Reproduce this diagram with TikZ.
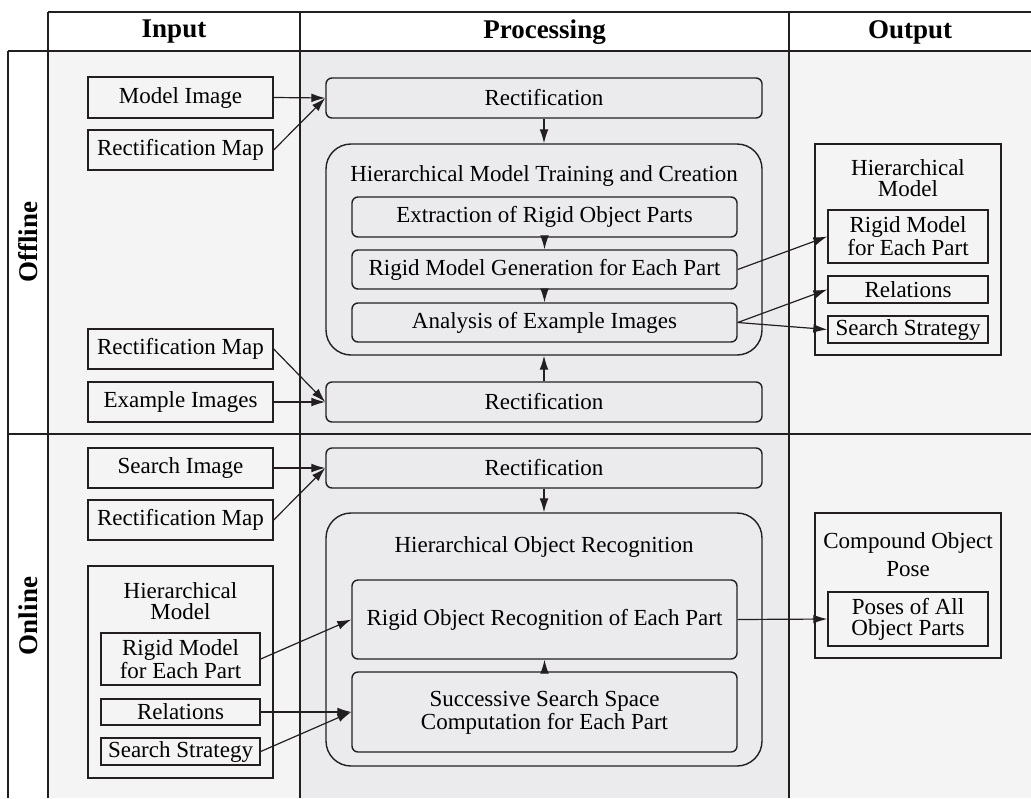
\documentclass[tikz,border=0pt]{standalone}
\usepackage{fontspec}
\setmainfont{Liberation Serif}
\usetikzlibrary{arrows.meta}

\definecolor{linecol}{HTML}{231F20}
\definecolor{inputbg}{HTML}{F4F4F4}
\definecolor{procbg}{HTML}{EBEBED}
\def\BOXFONT{\fontsize{11.5}{10.5}\selectfont}
\def\HEADFONT{\fontsize{13.5}{15}\selectfont\bfseries}

\tikzset{
	inbox/.style={draw=linecol, line width=0.7pt, fill=inputbg, inner sep=0pt, align=center, font=\BOXFONT},
	procbox/.style={draw=linecol, line width=0.7pt, fill=procbg, rounded corners=3pt, inner sep=0pt, align=center, font=\BOXFONT},
	groupbox/.style={draw=linecol, line width=0.7pt, fill=procbg, rounded corners=12.5pt, inner sep=0pt},
	grouplabel/.style={inner sep=0pt, align=center, font=\BOXFONT},
	headlabel/.style={inner sep=0pt, font=\HEADFONT},
	flow/.style={draw=linecol, line width=0.6pt, -{Latex[length=7pt,width=4.4pt]}},
	thickrule/.style={draw=linecol, line width=1.4pt},
	thinrule/.style={draw=linecol, line width=0.6pt}
}

\begin{document}
\begin{tikzpicture}[x=0.5pt, y=-0.5pt]

	\useasboundingbox (0,0) rectangle (1031,798);

	% table background
	\fill[inputbg] (48,51) rectangle (300,798);
	\fill[procbg] (300,51) rectangle (789,798);
	\fill[inputbg] (789,51) rectangle (1031,798);

	% table rules
	\draw[thinrule] (300,12) -- (300,798);
	\draw[thinrule] (789,12) -- (789,798);
	\draw[thinrule] (8,434) -- (1031,434);
	\draw[thickrule] (48,12) -- (1031,12);
	\draw[thickrule] (8,51) -- (1031,51);
	\draw[thickrule] (8,51) -- (8,798);
	\draw[thickrule] (48,12) -- (48,798);

	% headers
	\node[headlabel] (hinput) at (174,32) {Input};
	\node[headlabel] (hproc) at (544.5,32) {Processing};
	\node[headlabel] (houtput) at (910,32) {Output};
	\node[headlabel, rotate=90] (hoffline) at (28,242) {Offline};
	\node[headlabel, rotate=90] (honline) at (28,616) {Online};

	% offline input
	\node[inbox, minimum width=92.5pt, minimum height=20.5pt] (mimg) at (180.5,97.5) {Model Image};
	\node[inbox, minimum width=92.5pt, minimum height=20pt] (rmapa) at (180.5,150) {Rectification Map};
	\node[inbox, minimum width=92.5pt, minimum height=20pt] (rmapb) at (180.5,349) {Rectification Map};
	\node[inbox, minimum width=92.5pt, minimum height=20pt] (eximg) at (180.5,402) {Example Images};

	% offline processing
	\node[procbox, minimum width=218pt, minimum height=20pt] (recta) at (544,98) {Rectification};
	\node[groupbox, minimum width=218pt, minimum height=105.5pt] (train) at (544,249.5) {};
	\node[grouplabel] (trainlabel) at (544,176) {Hierarchical Model Training and Creation};
	\node[procbox, minimum width=192.5pt, minimum height=20pt] (extr) at (544.5,217) {Extraction of Rigid Object Parts};
	\node[procbox, minimum width=192.5pt, minimum height=19.5pt] (rgen) at (544.5,269.5) {Rigid Model Generation for Each Part};
	\node[procbox, minimum width=192.5pt, minimum height=19.5pt] (anal) at (544.5,322.5) {Analysis of Example Images};
	\node[procbox, minimum width=218pt, minimum height=20pt] (rectb) at (544,402) {Rectification};

	% offline output
	\node[inbox, minimum width=93pt, minimum height=105.5pt] (omodel) at (908,249.5) {};
	\node[grouplabel] (omodellabel) at (908,178) {Hierarchical\\Model};
	\node[inbox, minimum width=80pt, minimum height=26.5pt] (origid) at (908,236.5) {Rigid Model\\for Each Part};
	\node[inbox, minimum width=80pt, minimum height=13.5pt] (orel) at (908,289.5) {Relations};
	\node[inbox, minimum width=80pt, minimum height=13.5pt] (ostrat) at (908,329.5) {Search Strategy};

	% online input
	\node[inbox, minimum width=92.5pt, minimum height=20pt] (simg) at (180.5,468) {Search Image};
	\node[inbox, minimum width=92.5pt, minimum height=20pt] (rmapc) at (180.5,520) {Rectification Map};
	\node[inbox, minimum width=92.5pt, minimum height=106pt] (imodel) at (180.5,672) {};
	\node[grouplabel] (imodellabel) at (180.5,601) {Hierarchical\\Model};
	\node[inbox, minimum width=79.5pt, minimum height=26pt] (irigid) at (180.5,659) {Rigid Model\\for Each Part};
	\node[inbox, minimum width=79.5pt, minimum height=13pt] (irel) at (180.5,712) {Relations};
	\node[inbox, minimum width=79.5pt, minimum height=13.5pt] (istrat) at (180.5,751.5) {Search Strategy};

	% online processing
	\node[procbox, minimum width=218pt, minimum height=20pt] (rectc) at (544,468) {Rectification};
	\node[groupbox, minimum width=218pt, minimum height=126.5pt] (recog) at (544,639.5) {};
	\node[grouplabel] (recoglabel) at (544,547) {Hierarchical Object Recognition};
	\node[procbox, minimum width=192.5pt, minimum height=39.5pt] (rrec) at (544.5,619.5) {Rigid Object Recognition of Each Part};
	\node[procbox, minimum width=192.5pt, minimum height=40pt] (succ) at (544.5,712) {Successive Search Space\\Computation for Each Part};

	% online output
	\node[inbox, minimum width=93pt, minimum height=72.5pt] (opose) at (908,585.5) {};
	\node[grouplabel, font=\fontsize{11.5}{14}\selectfont] (oposelabel) at (908,555) {Compound Object\\Pose};
	\node[inbox, minimum width=80pt, minimum height=27pt] (oparts) at (908,619) {Poses of All\\Object Parts};

	% offline connectors
	\draw[flow] (mimg.east) -- (recta.west);
	\draw[flow] (rmapa.east) -- (recta.west);
	\draw[flow] (recta.south) -- (train.north);
	\draw[flow] (extr.south) -- (rgen.north);
	\draw[flow] (rgen.south) -- (anal.north);
	\draw[flow] (rgen.east) -- (origid.west);
	\draw[flow] (anal.east) -- (orel.west);
	\draw[flow] (anal.east) -- (ostrat.west);
	\draw[flow] (rectb.north) -- (train.south);
	\draw[flow] (rmapb.east) -- (rectb.west);
	\draw[flow] (eximg.east) -- (rectb.west);

	% online connectors
	\draw[flow] (simg.east) -- (rectc.west);
	\draw[flow] (rmapc.east) -- (rectc.west);
	\draw[flow] (rectc.south) -- (recog.north);
	\draw[flow] (irigid.east) -- (rrec.west);
	\draw[flow] (irel.east) -- (succ.west);
	\draw[flow] (istrat.east) -- (succ.west);
	\draw[flow] (succ.north) -- (rrec.south);
	\draw[flow] (rrec.east) -- (oparts.west);

\end{tikzpicture}
\end{document}
